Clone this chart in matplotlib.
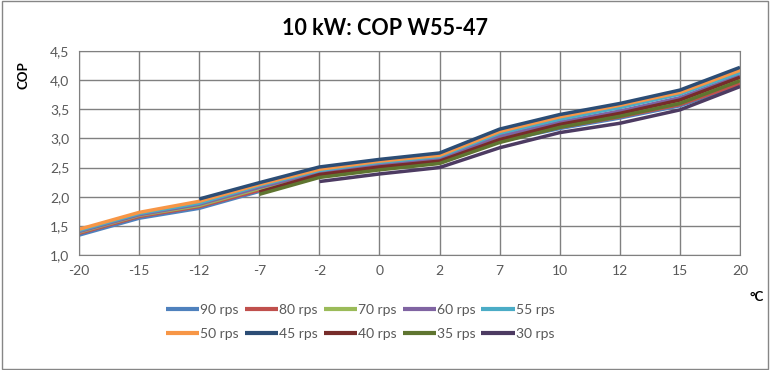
import matplotlib.pyplot as plt
import numpy as np
from matplotlib.patches import Rectangle

nan = np.nan
temps = ['-20', '-15', '-12', '-7', '-2', '0', '2', '7', '10', '12', '15', '20']
labels = ['90 rps', '80 rps', '70 rps', '60 rps', '55 rps',
          '50 rps', '45 rps', '40 rps', '35 rps', '30 rps']

cop_90 = [1.34, 1.63, 1.80, 2.09, 2.36, 2.49, 2.58, 2.95, 3.17, 3.35, 3.56, 3.92]
cop_80 = [1.37, 1.66, 1.83, 2.11, 2.37, 2.50, 2.60, 2.96, 3.19, 3.37, 3.58, 3.94]
cop_70 = [1.39, 1.68, 1.85, 2.14, 2.40, 2.53, 2.62, 3.00, 3.24, 3.42, 3.64, 4.01]
cop_60 = [1.40, 1.69, 1.87, 2.16, 2.42, 2.56, 2.65, 3.04, 3.28, 3.47, 3.70, 4.08]
cop_55 = [1.42, 1.71, 1.89, 2.19, 2.45, 2.59, 2.69, 3.09, 3.33, 3.53, 3.76, 4.13]
cop_50 = [1.44, 1.73, 1.92, 2.21, 2.47, 2.61, 2.71, 3.12, 3.37, 3.57, 3.79, 4.17]
cop_45 = [nan, nan, 1.96, 2.24, 2.51, 2.64, 2.75, 3.16, 3.41, 3.60, 3.83, 4.22]
cop_40 = [nan, nan, nan, 2.08, 2.38, 2.51, 2.61, 2.98, 3.24, 3.43, 3.66, 4.05]
cop_35 = [nan, nan, nan, 2.04, 2.33, 2.46, 2.57, 2.93, 3.19, 3.38, 3.60, 3.99]
cop_30 = [nan, nan, nan, nan, 2.26, 2.39, 2.50, 2.84, 3.10, 3.26, 3.49, 3.89]

series = [cop_90, cop_80, cop_70, cop_60, cop_55, cop_50, cop_45, cop_40, cop_35, cop_30]
colors = ['#4F81BD', '#C0504D', '#9BBB59', '#8064A2', '#4BACC6',
          '#F79646', '#2C4D75', '#772C2A', '#5F7530', '#4D3B62']

plt.rcParams['font.family'] = ['Lato', 'DejaVu Sans']

fig = plt.figure(figsize=(7.7, 3.7), dpi=100)
ax = fig.add_axes([0.1026, 0.311, 0.8584, 0.551])

x = np.arange(len(temps))
handles = []
for vals, lab, col in zip(series, labels, colors):
    h, = ax.plot(x, vals, color=col, lw=2.5, label=lab, solid_capstyle='butt')
    handles.append(h)

ax.set_xlim(0, len(temps) - 1)
ax.set_ylim(1.0, 4.5)
ax.set_xticks(x)
ax.set_xticklabels(temps)
yt = np.arange(1.0, 4.51, 0.5)
ax.set_yticks(yt)
ax.set_yticklabels([f'{v:.1f}'.replace('.', ',') for v in yt])
ax.grid(True, color='#808080', lw=1)
ax.set_axisbelow(True)
for s in ax.spines.values():
    s.set_color('#808080')
ax.tick_params(length=0, colors='#595959', labelsize=10, pad=7)

fig.text(0.5, 0.924, '10 kW: COP W55-47', fontsize=15.5, fontweight='bold',
         ha='center', va='center')
ax.set_ylabel('COP', fontsize=9.5, fontweight='bold')
ax.yaxis.set_label_coords(-0.075, 0.88)
fig.text(0.992, 0.197, '°C', fontsize=9.5, fontweight='bold', ha='right', va='center')

order = [0, 5, 1, 6, 2, 7, 3, 8, 4, 9]
leg = fig.legend([handles[i] for i in order], [labels[i] for i in order],
                 ncol=5, loc='center', bbox_to_anchor=(0.468, 0.13), frameon=False,
                 fontsize=10, handlelength=2.4, handletextpad=0.1, columnspacing=0.4,
                 labelspacing=0.85)
for t in leg.get_texts():
    t.set_color('#595959')
for h in leg.legend_handles:
    h.set_linewidth(3)

fig.patches.append(Rectangle((0.002, 0.003), 0.995, 0.994, transform=fig.transFigure,
                             fill=False, edgecolor='#868686', lw=1))

fig.savefig('out.png', dpi=100)
